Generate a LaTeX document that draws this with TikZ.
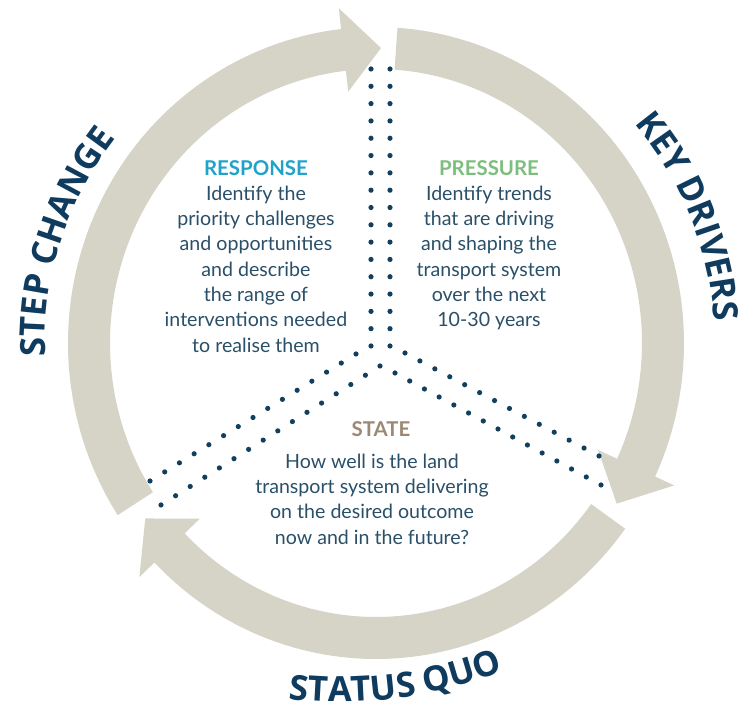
\documentclass[tikz,border=0pt]{standalone}
\usepackage{fontspec}
\setmainfont{Lato}
\newfontfamily\labelfont{Open Sans}
\usetikzlibrary{decorations.text,calc}
\definecolor{band}{HTML}{D6D4C7}
\definecolor{navy}{HTML}{0E3B5E}
\definecolor{dotc}{HTML}{123F5E}
\definecolor{bodyc}{HTML}{2A5069}
\definecolor{respc}{HTML}{1FA3C8}
\definecolor{pressc}{HTML}{7CBE7E}
\definecolor{statec}{HTML}{9C8874}
\newcommand\arcfont{\labelfont\bfseries\fontsize{26}{28}\selectfont}
% start angle, back-of-head angle, tip angle
\newcommand\arcarrow[3]{%
  \fill[band] plot[domain=#1:#2,samples=90] ({308*cos(\x)},{316*sin(\x)})
    -- ({329*cos(#2)},{337*sin(#2)}) -- ({287*cos(#3)},{295*sin(#3)})
    -- ({245*cos(#2)},{253*sin(#2)})
    -- plot[domain=#2:#1,samples=90] ({266*cos(\x)},{274*sin(\x)}) -- cycle;}
\newcommand\dotrow[3]{%
  \foreach \i in {0,...,#3}{\fill[dotc] ($(#1)!\i/#3!(#2)$) circle[radius=2.6];}}
\begin{document}
\begin{tikzpicture}[x=0.75pt,y=0.75pt,
  bodytext/.style={text=bodyc, font=\fontsize{14.7}{19}\selectfont, align=center, inner sep=0pt, anchor=north},
  headtext/.style={font=\bfseries\fontsize{15.3}{17}\selectfont, inner sep=0pt, anchor=base},
  arclabel/.style={decorate, decoration={text along path, text align=center, text color=navy}}]
\useasboundingbox (0,0) rectangle (744,710);
\fill[white] (0,0) rectangle (744,710);

% circular arrows
\begin{scope}[shift={(376,367)}]
  \arcarrow{213}{96.5}{89}
  \arcarrow{86}{-25}{-33}
  \arcarrow{-36}{-136}{-143.5}
  % curved labels
  \path[arclabel, decoration={text={|\arcfont|STEP CHANGE}}]
    plot[domain=202:122,samples=80] ({331*cos(\x)},{331*sin(\x)});
  \path[arclabel, decoration={text={|\arcfont|KEY DRIVERS}}]
    plot[domain=62:-18,samples=80] ({339*cos(\x)},{339*sin(\x)});
\end{scope}
\begin{scope}[shift={(340,453)}]
  \path[arclabel, decoration={text={|\arcfont|STATUS QUO}}]
    plot[domain=247.5:307.5,samples=80] ({445*cos(\x)},{445*sin(\x)});
\end{scope}

% dotted spokes
\coordinate (vl1) at (371,641); \coordinate (vl2) at (371,364);
\coordinate (vr1) at (390,641); \coordinate (vr2) at (390,364);
\coordinate (lu1) at (356,356); \coordinate (lu2) at (150,229);
\coordinate (ll1) at (380,344); \coordinate (ll2) at (161,205);
\coordinate (ru1) at (405,357); \coordinate (ru2) at (599,254);
\coordinate (rl1) at (395,337); \coordinate (rl2) at (601,225);
\dotrow{vl1}{vl2}{16}
\dotrow{vr1}{vr2}{16}
\dotrow{lu1}{lu2}{14}
\dotrow{ll1}{ll2}{15}
\dotrow{ru1}{ru2}{13}
\dotrow{rl1}{rl2}{14}

% texts
\node[headtext, text=respc] (resph) at (256,534) {RESPONSE};
\node[bodytext] (respb) at (256,524.5) {Identify the\\priority challenges\\and opportunities\\and describe\\the range of\\interventions needed\\to realise them};
\node[headtext, text=pressc] (pressh) at (489,534) {PRESSURE};
\node[bodytext] (pressb) at (489,524.5) {Identify trends\\that are driving\\and shaping the\\transport system\\over the next\\10-30 years};
\node[headtext, text=statec] (stateh) at (381,273) {STATE};
\node[bodytext] (stateb) at (372,256.5) {How well is the land\\transport system delivering\\on the desired outcome\\now and in the future?};
\end{tikzpicture}
\end{document}
